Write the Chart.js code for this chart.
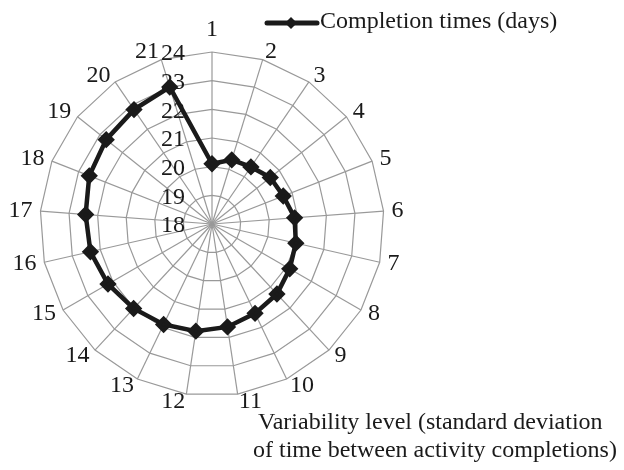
<!DOCTYPE html>
<html>
<head>
<meta charset="utf-8">
<script src="https://cdn.jsdelivr.net/npm/chart.js@4.4.1/dist/chart.umd.min.js"></script>
<style>
  html, body { margin: 0; padding: 0; background: #fff; }
  #wrap { width: 624px; height: 470px; }
</style>
</head>
<body>
<div id="wrap"><canvas id="chart" width="624" height="470"></canvas></div>
<script>
const categories = ["1", "2", "3", "4", "5", "6", "7", "8", "9", "10", "11",
  "12", "13", "14", "15", "16", "17", "18", "19", "20", "21"];
const completionTimes = [20.1, 20.34, 20.41, 20.6, 20.67, 20.89, 21.0, 21.13,
  21.33, 21.46, 21.63, 21.78, 21.89, 22.02, 22.19, 22.35, 22.42, 22.6, 22.72,
  22.83, 23.0];
const tickValues = [18, 19, 20, 21, 22, 23, 24];
const seriesName = "Completion times (days)";
const axisCaption = ["Variability level (standard deviation",
  "of time between activity completions)"];

const serif = "'Liberation Serif', 'Times New Roman', serif";
const ink = "#1a1a1a";
const fontSize = 24;

// category and value labels placed the way the original (Excel) does it
const radarLabels = {
  id: "radarLabels",
  beforeDatasetsDraw(chart) {
    const scale = chart.scales.r;
    const ctx = chart.ctx;
    ctx.save();
    ctx.font = fontSize + "px " + serif;
    ctx.fillStyle = ink;

    categories.forEach((label, i) => {
      const deg = Math.round(scale.getIndexAngle(i) * 180 / Math.PI) % 360;
      if (deg === 0) {
        const p = scale.getPointPosition(i, scale.drawingArea + 16);
        ctx.textAlign = "center";
        ctx.textBaseline = "alphabetic";
        ctx.fillText(label, p.x, p.y);
        return;
      }
      const p = scale.getPointPosition(i, scale.drawingArea + 8);
      ctx.textAlign = deg < 180 ? "left" : "right";
      ctx.textBaseline = "middle";
      ctx.fillText(label, p.x, p.y);
    });

    ctx.textAlign = "right";
    ctx.textBaseline = "middle";
    tickValues.forEach((v) => {
      const d = scale.getDistanceFromCenterForValue(v);
      ctx.fillText(String(v), scale.xCenter - 27, scale.yCenter - d + 2);
    });
    ctx.restore();
  },
};

// legend (line + diamond) and the axis caption
const annotations = {
  id: "annotations",
  afterDraw(chart) {
    const ctx = chart.ctx;
    ctx.save();
    ctx.strokeStyle = ink;
    ctx.fillStyle = ink;
    ctx.lineWidth = 5;
    ctx.lineCap = "round";
    ctx.beginPath();
    ctx.moveTo(267, 23);
    ctx.lineTo(317, 23);
    ctx.stroke();
    ctx.beginPath();
    ctx.moveTo(291, 17);
    ctx.lineTo(297, 23);
    ctx.lineTo(291, 29);
    ctx.lineTo(285, 23);
    ctx.closePath();
    ctx.fill();

    ctx.font = fontSize + "px " + serif;
    ctx.textBaseline = "middle";
    ctx.textAlign = "left";
    ctx.fillText(seriesName, 320, 22);
    ctx.fillText(axisCaption[0], 258, 423);
    ctx.fillText(axisCaption[1], 253, 451);
    ctx.restore();
  },
};

new Chart(document.getElementById("chart").getContext("2d"), {
  type: "radar",
  data: {
    labels: categories,
    datasets: [{
      label: seriesName,
      data: completionTimes,
      borderColor: ink,
      backgroundColor: ink,
      borderWidth: 4.5,
      fill: false,
      pointStyle: "rectRot",
      pointRadius: 5.5,
      pointBackgroundColor: ink,
      pointBorderColor: ink,
      tension: 0,
    }],
  },
  options: {
    responsive: false,
    animation: false,
    layout: { padding: { left: 40, right: 240, top: 52, bottom: 74 } },
    plugins: {
      legend: { display: false },
      tooltip: { enabled: false },
    },
    scales: {
      r: {
        min: 18,
        max: 24,
        ticks: { stepSize: 1, display: false },
        grid: { color: "#999999", lineWidth: 1.2 },
        angleLines: { color: "#999999", lineWidth: 1.2 },
        pointLabels: { display: false },
      },
    },
  },
  plugins: [radarLabels, annotations],
});
</script>
</body>
</html>
